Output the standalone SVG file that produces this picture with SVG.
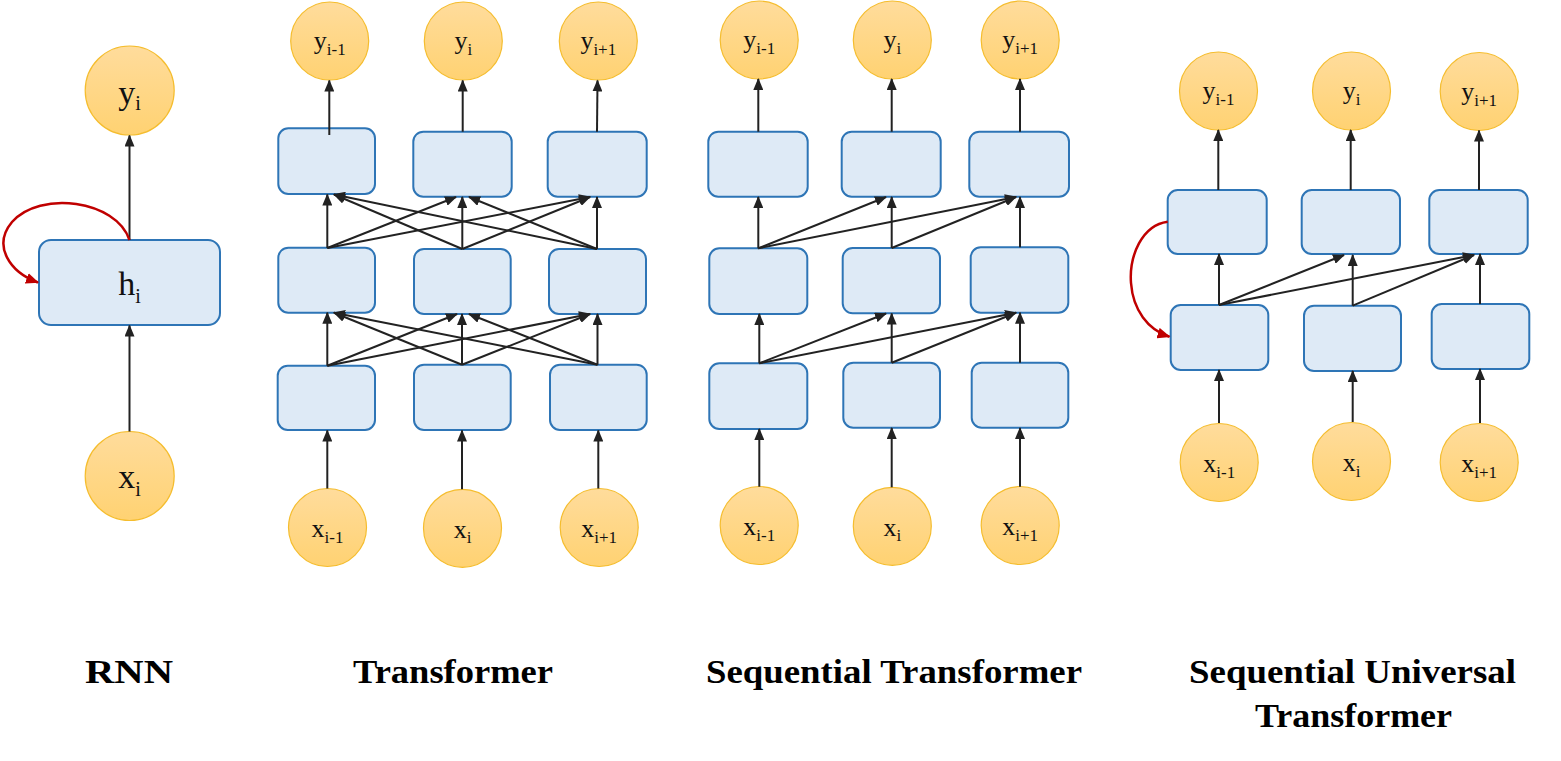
<svg xmlns="http://www.w3.org/2000/svg" width="1561" height="761" viewBox="0 0 1561 761">
<defs>
<linearGradient id="cg" x1="0" y1="0" x2="0" y2="1">
<stop offset="0" stop-color="#FFDC9C"/>
<stop offset="1" stop-color="#FFD272"/>
</linearGradient>
<marker id="ah" markerUnits="userSpaceOnUse" markerWidth="12" markerHeight="10" refX="11" refY="5" orient="auto">
<path d="M0,0 L12,5 L0,10 z" fill="#222"/>
</marker>
<marker id="ahr" markerUnits="userSpaceOnUse" markerWidth="13" markerHeight="11" refX="12" refY="5.5" orient="auto">
<path d="M0,0 L13,5.5 L0,11 z" fill="#C00000"/>
</marker>
</defs>
<style>
.c{fill:url(#cg);stroke:#F5BD2E;stroke-width:1.2}
.b{fill:#DEEAF6;stroke:#2E75B6;stroke-width:2}
.t{font-family:"Liberation Serif",serif;font-size:26px;fill:#111}
.tb{font-family:"Liberation Serif",serif;font-size:34px;fill:#111}
.s{font-size:17px}
.sb{font-size:20px}
.e{stroke:#222;stroke-width:2;fill:none;marker-end:url(#ah)}
.r{stroke:#C00000;stroke-width:2.5;fill:none;marker-end:url(#ahr)}
.lab{font-family:"Liberation Serif",serif;font-weight:bold;font-size:33px;fill:#000}
</style>

<!-- RNN -->
<g id="rnn-y"><circle class="c" cx="129.7" cy="90.5" r="44.5"/><text class="tb" x="129.5" y="103.5" text-anchor="middle">y<tspan class="sb" dy="6.5">i</tspan></text></g>
<g id="rnn-h"><rect class="b" x="39" y="240" width="181" height="85" rx="12"/><text class="tb" x="129.5" y="295" text-anchor="middle">h<tspan class="sb" dy="8">i</tspan></text></g>
<g id="rnn-x"><circle class="c" cx="129.7" cy="476" r="44.5"/><text class="tb" x="129.5" y="488.3" text-anchor="middle">x<tspan class="sb" dy="8">i</tspan></text></g>

<!-- Transformer -->
<g id="t-y1"><circle class="c" cx="329.7" cy="41" r="39"/><text class="t" x="329.7" y="49" text-anchor="middle">y<tspan class="s" dy="6">i-1</tspan></text></g>
<g id="t-y2"><circle class="c" cx="463.3" cy="41" r="39"/><text class="t" x="463.3" y="49" text-anchor="middle">y<tspan class="s" dy="6">i</tspan></text></g>
<g id="t-y3"><circle class="c" cx="598.3" cy="41" r="39"/><text class="t" x="598.3" y="49" text-anchor="middle">y<tspan class="s" dy="6">i+1</tspan></text></g>
<g id="t-top1"><rect class="b" x="278.3" y="128.3" width="96.7" height="65.7" rx="10"/></g>
<g id="t-top2"><rect class="b" x="413.3" y="131.7" width="98.4" height="65" rx="10"/></g>
<g id="t-top3"><rect class="b" x="547.7" y="131.7" width="99" height="65" rx="10"/></g>
<g id="t-mid1"><rect class="b" x="278.3" y="247.7" width="96.7" height="65" rx="10"/></g>
<g id="t-mid2"><rect class="b" x="414" y="249" width="96.7" height="65" rx="10"/></g>
<g id="t-mid3"><rect class="b" x="549" y="249" width="97" height="65" rx="10"/></g>
<g id="t-bot1"><rect class="b" x="277.7" y="365.7" width="97.3" height="64.3" rx="10"/></g>
<g id="t-bot2"><rect class="b" x="414" y="364.7" width="96.7" height="65.3" rx="10"/></g>
<g id="t-bot3"><rect class="b" x="550" y="364.7" width="96.7" height="65.3" rx="10"/></g>
<g id="t-x1"><circle class="c" cx="327.5" cy="527.5" r="39"/><text class="t" x="327.5" y="537.3" text-anchor="middle">x<tspan class="s" dy="5.4">i-1</tspan></text></g>
<g id="t-x2"><circle class="c" cx="462.5" cy="528.3" r="39"/><text class="t" x="462.5" y="538" text-anchor="middle">x<tspan class="s" dy="5.4">i</tspan></text></g>
<g id="t-x3"><circle class="c" cx="599.2" cy="527.5" r="39"/><text class="t" x="599.2" y="537.3" text-anchor="middle">x<tspan class="s" dy="5.4">i+1</tspan></text></g>

<!-- Sequential Transformer -->
<g id="s-y1"><circle class="c" cx="759.2" cy="40" r="39"/><text class="t" x="759.2" y="48" text-anchor="middle">y<tspan class="s" dy="6">i-1</tspan></text></g>
<g id="s-y2"><circle class="c" cx="892.3" cy="40" r="39"/><text class="t" x="892.3" y="48" text-anchor="middle">y<tspan class="s" dy="6">i</tspan></text></g>
<g id="s-y3"><circle class="c" cx="1020.2" cy="40" r="39"/><text class="t" x="1020.2" y="48" text-anchor="middle">y<tspan class="s" dy="6">i+1</tspan></text></g>
<g id="s-top1"><rect class="b" x="708.3" y="131.7" width="99.4" height="65" rx="10"/></g>
<g id="s-top2"><rect class="b" x="841.7" y="131.7" width="99" height="65" rx="10"/></g>
<g id="s-top3"><rect class="b" x="969.3" y="131.7" width="99.7" height="65" rx="10"/></g>
<g id="s-mid1"><rect class="b" x="709.3" y="248.3" width="98" height="65.7" rx="10"/></g>
<g id="s-mid2"><rect class="b" x="842.7" y="248" width="97.3" height="65.3" rx="10"/></g>
<g id="s-mid3"><rect class="b" x="970.7" y="247.3" width="97.6" height="65.4" rx="10"/></g>
<g id="s-bot1"><rect class="b" x="709.3" y="363.3" width="98" height="65.7" rx="10"/></g>
<g id="s-bot2"><rect class="b" x="843.3" y="362.7" width="96.7" height="65" rx="10"/></g>
<g id="s-bot3"><rect class="b" x="971.7" y="362.7" width="96.6" height="65" rx="10"/></g>
<g id="s-x1"><circle class="c" cx="759.2" cy="525.5" r="39"/><text class="t" x="759.2" y="535.3" text-anchor="middle">x<tspan class="s" dy="5.4">i-1</tspan></text></g>
<g id="s-x2"><circle class="c" cx="892.3" cy="526.3" r="39"/><text class="t" x="892.3" y="536" text-anchor="middle">x<tspan class="s" dy="5.4">i</tspan></text></g>
<g id="s-x3"><circle class="c" cx="1020.2" cy="525.5" r="39"/><text class="t" x="1020.2" y="535.3" text-anchor="middle">x<tspan class="s" dy="5.4">i+1</tspan></text></g>

<!-- Sequential Universal Transformer -->
<g id="u-y1"><circle class="c" cx="1218.5" cy="91" r="39"/><text class="t" x="1218.5" y="99" text-anchor="middle">y<tspan class="s" dy="6">i-1</tspan></text></g>
<g id="u-y2"><circle class="c" cx="1351.5" cy="91" r="39"/><text class="t" x="1351.5" y="99" text-anchor="middle">y<tspan class="s" dy="6">i</tspan></text></g>
<g id="u-y3"><circle class="c" cx="1479.2" cy="91.5" r="39"/><text class="t" x="1479.2" y="99.5" text-anchor="middle">y<tspan class="s" dy="6">i+1</tspan></text></g>
<g id="u-top1"><rect class="b" x="1167.7" y="190" width="99" height="64" rx="10"/></g>
<g id="u-top2"><rect class="b" x="1301.7" y="190" width="98.3" height="64" rx="10"/></g>
<g id="u-top3"><rect class="b" x="1429.3" y="190" width="98.4" height="64" rx="10"/></g>
<g id="u-bot1"><rect class="b" x="1170.7" y="305" width="97.6" height="65" rx="10"/></g>
<g id="u-bot2"><rect class="b" x="1304" y="305.7" width="97" height="65.3" rx="10"/></g>
<g id="u-bot3"><rect class="b" x="1431.7" y="304" width="97.6" height="65" rx="10"/></g>
<g id="u-x1"><circle class="c" cx="1219.2" cy="462.5" r="39"/><text class="t" x="1219.2" y="472.3" text-anchor="middle">x<tspan class="s" dy="5.4">i-1</tspan></text></g>
<g id="u-x2"><circle class="c" cx="1351.5" cy="461.5" r="39"/><text class="t" x="1351.5" y="471.3" text-anchor="middle">x<tspan class="s" dy="5.4">i</tspan></text></g>
<g id="u-x3"><circle class="c" cx="1479.2" cy="462.5" r="39"/><text class="t" x="1479.2" y="472.3" text-anchor="middle">x<tspan class="s" dy="5.4">i+1</tspan></text></g>

<g id="connectors">
<!-- RNN -->
<line class="e" x1="129.5" y1="240" x2="129.5" y2="135.5"/>
<line class="e" x1="129.5" y1="431.5" x2="129.5" y2="325.5"/>
<path class="r" d="M129.5,240 C116,200 40,190 12,222 C-8,246 10,272 38,282.5"/>
<!-- Transformer -->
<line class="e" x1="329.3" y1="135" x2="329.3" y2="80.5"/>
<line class="e" x1="462.7" y1="131.7" x2="462.7" y2="80.5"/>
<line class="e" x1="597" y1="131.7" x2="597.5" y2="80.5"/>
<line class="e" x1="327.3" y1="248" x2="327.3" y2="194.5"/>
<line class="e" x1="327.3" y1="248" x2="456" y2="197"/>
<line class="e" x1="327.3" y1="248" x2="590" y2="197"/>
<line class="e" x1="462.3" y1="249" x2="334" y2="194.5"/>
<line class="e" x1="462.3" y1="249" x2="462.3" y2="197"/>
<line class="e" x1="462.3" y1="249" x2="590" y2="197"/>
<line class="e" x1="597" y1="249" x2="334" y2="194.5"/>
<line class="e" x1="597" y1="249" x2="469" y2="197"/>
<line class="e" x1="597" y1="249" x2="597" y2="197"/>
<line class="e" x1="327.3" y1="365.7" x2="327.3" y2="312.7"/>
<line class="e" x1="327.3" y1="365.7" x2="457" y2="314"/>
<line class="e" x1="327.3" y1="365.7" x2="590" y2="314"/>
<line class="e" x1="462" y1="364.7" x2="334" y2="312.7"/>
<line class="e" x1="462" y1="364.7" x2="462" y2="314"/>
<line class="e" x1="462" y1="364.7" x2="590" y2="314"/>
<line class="e" x1="597.5" y1="364.7" x2="334" y2="312.7"/>
<line class="e" x1="597.5" y1="364.7" x2="469" y2="314"/>
<line class="e" x1="597.5" y1="364.7" x2="597.5" y2="314"/>
<line class="e" x1="327.3" y1="488.5" x2="327.3" y2="430.5"/>
<line class="e" x1="462" y1="489.3" x2="462" y2="430.5"/>
<line class="e" x1="598.3" y1="488.5" x2="598.3" y2="430.5"/>
<!-- Sequential Transformer -->
<line class="e" x1="758.3" y1="131.7" x2="758.3" y2="79"/>
<line class="e" x1="891.7" y1="131.7" x2="891.7" y2="79"/>
<line class="e" x1="1020" y1="131.7" x2="1020" y2="79"/>
<line class="e" x1="758.3" y1="248.3" x2="758.3" y2="197"/>
<line class="e" x1="758.3" y1="248.3" x2="886" y2="197"/>
<line class="e" x1="758.3" y1="248.3" x2="1016" y2="197"/>
<line class="e" x1="891.7" y1="248" x2="891.7" y2="197"/>
<line class="e" x1="891.7" y1="248" x2="1016" y2="197"/>
<line class="e" x1="1020" y1="247.3" x2="1020" y2="197"/>
<line class="e" x1="759.3" y1="363.3" x2="759.3" y2="314"/>
<line class="e" x1="759.3" y1="363.3" x2="886" y2="313.5"/>
<line class="e" x1="759.3" y1="363.3" x2="1016" y2="312.7"/>
<line class="e" x1="891.7" y1="362.7" x2="891.7" y2="313.5"/>
<line class="e" x1="891.7" y1="362.7" x2="1016" y2="312.7"/>
<line class="e" x1="1020" y1="362.7" x2="1020" y2="312.7"/>
<line class="e" x1="759.3" y1="486.7" x2="759.3" y2="429"/>
<line class="e" x1="891.7" y1="487.3" x2="891.7" y2="428"/>
<line class="e" x1="1020" y1="486.7" x2="1020" y2="428"/>
<!-- Sequential Universal Transformer -->
<line class="e" x1="1218.3" y1="190" x2="1218.3" y2="130"/>
<line class="e" x1="1350.7" y1="190" x2="1350.7" y2="130"/>
<line class="e" x1="1479" y1="190" x2="1479" y2="130.5"/>
<line class="e" x1="1219" y1="305" x2="1219" y2="254"/>
<line class="e" x1="1219" y1="305" x2="1344" y2="255"/>
<line class="e" x1="1219" y1="305" x2="1474" y2="255"/>
<line class="e" x1="1352.7" y1="305.7" x2="1352.7" y2="255"/>
<line class="e" x1="1352.7" y1="305.7" x2="1474" y2="255"/>
<line class="e" x1="1480" y1="304" x2="1480" y2="254"/>
<line class="e" x1="1219" y1="423" x2="1219" y2="370"/>
<line class="e" x1="1352.7" y1="422" x2="1352.7" y2="371"/>
<line class="e" x1="1480" y1="423" x2="1480" y2="369"/>
<path class="r" d="M1167.7,221.7 C1142,225 1129,256 1131,283 C1133,310 1148,330 1169.5,336.7"/>
</g>

<g id="labels">
<text class="lab" x="85" y="683" textLength="88" lengthAdjust="spacingAndGlyphs">RNN</text>
<text class="lab" x="353" y="683" textLength="200" lengthAdjust="spacingAndGlyphs">Transformer</text>
<text class="lab" x="706" y="683" textLength="376" lengthAdjust="spacingAndGlyphs">Sequential Transformer</text>
<text class="lab" x="1189" y="683" textLength="327" lengthAdjust="spacingAndGlyphs">Sequential Universal</text>
<text class="lab" x="1255" y="727" textLength="197" lengthAdjust="spacingAndGlyphs">Transformer</text>
</g>
</svg>
